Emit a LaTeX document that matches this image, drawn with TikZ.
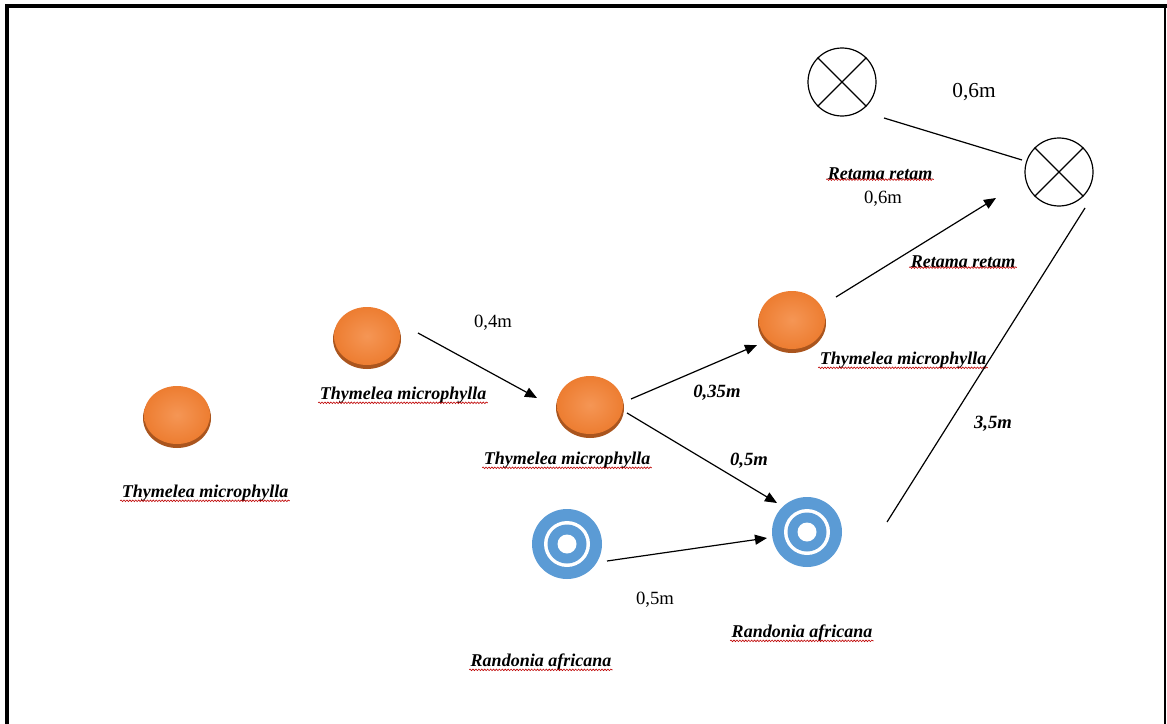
\documentclass[tikz,border=0pt]{standalone}
\usepackage{fontspec}
\setmainfont{Liberation Serif}
\usetikzlibrary{calc,arrows.meta,decorations.pathmorphing,shapes.geometric}
\definecolor{orng}{RGB}{237,125,49}
\definecolor{orngdark}{RGB}{170,85,30}
\definecolor{ornglight}{RGB}{245,150,85}
\definecolor{blu}{RGB}{91,155,213}
\tikzset{
  disc/.style={ellipse, minimum width=49.5pt, minimum height=45pt, inner sep=0pt},
  target/.style={circle, minimum size=52.5pt, inner sep=0pt},
  xcirc/.style={circle, draw=black, line width=0.9pt, minimum size=51pt, inner sep=0pt},
  splabel/.style={font=\fontsize{13.5}{15}\selectfont\bfseries\itshape, inner sep=1pt},
  dist/.style={font=\fontsize{14}{16}\selectfont, inner sep=1pt},
  bdist/.style={font=\fontsize{14}{16}\selectfont\bfseries\itshape, inner sep=1pt},
  squig/.style={draw=red!75!black, line width=0.45pt, decorate, decoration={snake, segment length=2.2pt, amplitude=0.6pt}},
  arr/.style={draw=black, line width=0.9pt, -{Triangle[length=9pt,width=7.5pt]}},
  ln/.style={draw=black, line width=0.9pt},
}
\begin{document}
\begin{tikzpicture}[x=0.75pt,y=-0.75pt]
\useasboundingbox (0,0) rectangle (1167,724);
\fill[white] (0,0) rectangle (1167,724);
% frame
\draw[line width=3pt] (7,724) -- (7,6) -- (1167,6);
\draw[line width=1.2pt] (1165,6) -- (1165,724);

% orange discs
\foreach \n/\p in {t1/{(177,415)}, t2/{(367,336)}, t3/{(590,405)}, t4/{(792,320)}}{
  \fill[orngdark] \p ++(0,3) ellipse [x radius=34, y radius=30];
  \shade[inner color=ornglight, outer color=orng] \p ellipse [x radius=33, y radius=29];
  \node[disc] (\n) at \p {};
}
% blue targets
\foreach \n/\p in {r1/{(567,544)}, r2/{(807,532)}}{
  \fill[blu] \p circle [radius=35];
  \fill[white] \p circle [radius=23];
  \fill[blu] \p circle [radius=19.5];
  \fill[white] \p circle [radius=9.5];
  \node[target] (\n) at \p {};
}
% crossed circles
\node[xcirc] (x1) at (842,82) {};
\node[xcirc] (x2) at (1059,172) {};
\draw[line width=0.9pt] (x1.north west) -- (x1.south east) (x1.north east) -- (x1.south west);
\draw[line width=0.9pt] (x2.north west) -- (x2.south east) (x2.north east) -- (x2.south west);

% species labels
\node[splabel] (lt1) at (205,493) {Thymelea microphylla};
\node[splabel] (lt2) at (403,395) {Thymelea microphylla};
\node[splabel] (lt3) at (567,460) {Thymelea microphylla};
\node[splabel] (lt4) at (903,360) {Thymelea microphylla};
\node[splabel] (lr1) at (541,662) {Randonia africana};
\node[splabel] (lr2) at (802,633) {Randonia africana};
\node[splabel] (lx1) at (880,174) {Retama retam};
\node[splabel] (lx2) at (963,262) {Retama retam};
\foreach \l in {lt1,lt2,lt3,lt4,lr1,lr2,lx1,lx2}{
  \path[squig] ([yshift=1.5pt]\l.south west) -- ([yshift=1.5pt]\l.south east);
}

% distance labels
\node[dist, font=\fontsize{16}{18}\selectfont] (d1) at (974,92) {0,6m};
\node[dist] (d2) at (883,199) {0,6m};
\node[dist] (d3) at (493,323) {0,4m};
\node[dist] (d4) at (655,600) {0,5m};
\node[bdist] (d5) at (717,393) {0,35m};
\node[bdist] (d6) at (749,461) {0,5m};
\node[bdist] (d7) at (993,424) {3,5m};

% connectors
\draw[arr] ($(t2)+(51,-3)$) -- ($(t3)+(-53,-7)$);
\draw[arr] ($(t3)+(41,-6)$) -- ($(t4)+(-35,25)$);
\draw[arr] ($(t3)+(37,8)$) -- ($(r2)+(-30,-29)$);
\draw[arr] ($(r1)+(40,17)$) -- ($(r2)+(-40,6)$);
\draw[arr] ($(t4)+(44,-23)$) -- ($(x2)+(-63,26)$);
\draw[ln] ($(x1)+(42,36)$) -- ($(x2)+(-37,-12)$);
\draw[ln] ($(x2)+(26,36)$) -- ($(r2)+(80,-10)$);
\end{tikzpicture}
\end{document}
